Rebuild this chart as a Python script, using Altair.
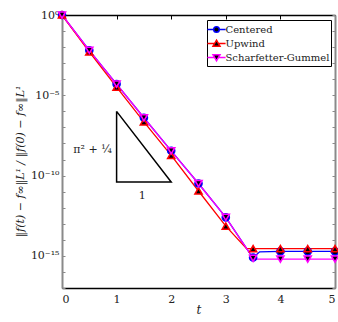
import altair as alt
import pandas as pd

SERIES = ["Centered", "Upwind", "Scharfetter-Gummel"]
COLORS = ["#0000ff", "#ff0000", "#ff00ff"]
MARKERS = ["circle", "triangle-up", "triangle-down"]
LEGEND_SYMBOLS = [
    "M-1.3,0L-0.4,0M0.4,0L1.3,0M0.4,0A0.4,0.4,0,1,1,-0.4,0A0.4,0.4,0,1,1,0.4,0Z",
    "M-1.3,0L-0.28,0M0.28,0L1.3,0M0,-0.48L0.5,0.38L-0.5,0.38Z",
    "M-1.3,0L-0.28,0M0.28,0L1.3,0M0,0.48L0.5,-0.38L-0.5,-0.38Z",
]

# markers every 0.5 in t
MARKER_T = [0, 0.5, 1, 1.5, 2, 2.5, 3, 3.5, 4, 4.5, 5]
CENTERED_MARK = [1.0, 6.3e-3, 5.0e-5, 4.0e-7, 3.5e-9, 3.2e-11, 2.5e-13, 7.9e-16, 1.9e-15, 1.9e-15, 1.9e-15]
UPWIND_MARK = [1.0, 5.0e-3, 3.2e-5, 2.2e-7, 1.8e-9, 1.1e-11, 7.1e-14, 2.8e-15, 2.8e-15, 2.8e-15, 2.8e-15]
SG_MARK = [1.0, 6.3e-3, 5.0e-5, 4.0e-7, 3.5e-9, 3.2e-11, 2.5e-13, 7.1e-16, 6.3e-16, 6.3e-16, 6.3e-16]

# continuous curves (vertices)
CENTERED_LINE_T = [0, 0.5, 1, 1.5, 2, 2.5, 3, 3.45, 3.5, 3.55, 3.62, 4, 4.5, 5]
CENTERED_LINE = [1.0, 6.3e-3, 5.0e-5, 4.0e-7, 3.5e-9, 3.2e-11, 2.5e-13, 1.3e-15, 7.1e-16, 1.1e-15, 1.8e-15, 1.9e-15, 1.9e-15, 1.9e-15]
UPWIND_LINE_T = [0, 0.5, 1, 1.5, 2, 2.5, 3, 3.38, 3.5, 4, 4.5, 5]
UPWIND_LINE = [1.0, 5.0e-3, 3.2e-5, 2.2e-7, 1.8e-9, 1.1e-11, 7.1e-14, 2.8e-15, 2.8e-15, 2.8e-15, 2.8e-15, 2.8e-15]
SG_LINE_T = [0, 0.5, 1, 1.5, 2, 2.5, 3, 3.45, 3.5, 4, 4.5, 5]
SG_LINE = [1.0, 6.3e-3, 5.0e-5, 4.0e-7, 3.5e-9, 3.2e-11, 2.5e-13, 1.3e-15, 6.3e-16, 6.3e-16, 6.3e-16, 6.3e-16]

# slope triangle
TRI_T = [1, 1, 2, 1]
TRI_Y = [1e-6, 4.0e-11, 4.0e-11, 1e-6]
TRI_TEXT = ["π² + ¼", "1"]
TRI_TEXT_T = [0.56, 1.47]
TRI_TEXT_Y = [4.0e-9, 5.0e-12]

X_TICKS = [0, 1, 2, 3, 4, 5]
Y_LABEL_VALUES = [1.0, 1e-5, 1e-10, 1e-15]
Y_LABELS = ["10⁰", "10⁻⁵", "10⁻¹⁰", "10⁻¹⁵"]
Y_MINOR = [1.0, 1e-1, 1e-2, 1e-3, 1e-4, 1e-5, 1e-6, 1e-7, 1e-8, 1e-9, 1e-10,
           1e-11, 1e-12, 1e-13, 1e-14, 1e-15, 1e-16, 1e-17]

FONT = "DejaVu Serif"
GRAY = "#8a8a8a"

lines_df = pd.concat([
    pd.DataFrame({"t": CENTERED_LINE_T, "v": CENTERED_LINE, "series": SERIES[0]}),
    pd.DataFrame({"t": UPWIND_LINE_T, "v": UPWIND_LINE, "series": SERIES[1]}),
    pd.DataFrame({"t": SG_LINE_T, "v": SG_LINE, "series": SERIES[2]}),
], ignore_index=True)
marks_df = pd.concat([
    pd.DataFrame({"t": MARKER_T, "v": CENTERED_MARK, "series": SERIES[0]}),
    pd.DataFrame({"t": MARKER_T, "v": UPWIND_MARK, "series": SERIES[1]}),
    pd.DataFrame({"t": MARKER_T, "v": SG_MARK, "series": SERIES[2]}),
], ignore_index=True)
tri_df = pd.DataFrame({"t": TRI_T, "v": TRI_Y, "i": list(range(len(TRI_T)))})
text_df = pd.DataFrame({"t": TRI_TEXT_T, "v": TRI_TEXT_Y, "label": TRI_TEXT})

xs = alt.Scale(domain=[0, 5], nice=False)
ys = alt.Scale(type="log", domain=[1e-17, 1], nice=False)
cs = alt.Scale(domain=SERIES, range=COLORS)

label_expr = " : ".join(
    f"datum.value > {v * 0.5} ? '{l}'" for v, l in zip(Y_LABEL_VALUES[:-1], Y_LABELS[:-1])
) + f" : '{Y_LABELS[-1]}'"

ax_bottom = alt.Axis(orient="bottom", values=X_TICKS, format="d", ticks=False, tickSize=0,
                     domainColor="black", domainWidth=1.5, grid=False,
                     labelFont=FONT, labelFontSize=11, labelPadding=5, labelColor="#222",
                     title="t", titleFont=FONT, titleFontStyle="italic", titleFontSize=12,
                     titleFontWeight="normal", titlePadding=0, titleColor="#222")
ax_left = alt.Axis(orient="left", values=Y_LABEL_VALUES, labelExpr=label_expr, ticks=False,
                   tickSize=0, domainColor=GRAY, domainWidth=2, grid=False,
                   labelFont=FONT, labelFontSize=11, labelPadding=3, labelColor="#222",
                   title="‖f(t) − f∞‖L¹ / ‖f(0) − f∞‖L¹", titleFont=FONT,
                   titleFontStyle="italic", titleFontSize=11, titleFontWeight="normal",
                   titleColor="#222", titleX=-42, titleY=146, titleBaseline="middle")
ax_top = alt.Axis(orient="top", values=X_TICKS, ticks=False, tickSize=0, labels=False,
                  domainColor="black", domainWidth=1.5, grid=False, title=None)
ax_right = alt.Axis(orient="right", values=Y_MINOR, ticks=False, tickSize=0, labels=False,
                    domainColor=GRAY, domainWidth=2, grid=False, title=None)
ax_top_ticks = alt.Axis(orient="top", values=X_TICKS, ticks=True, tickSize=4, offset=-4,
                        tickColor="black", labels=False, domain=False, grid=False, title=None)
ax_left_ticks = alt.Axis(orient="left", values=Y_MINOR, ticks=True, tickSize=3, offset=-3,
                         tickColor=GRAY, tickWidth=1, labels=False, domain=False, grid=False,
                         title=None)
ax_right_ticks = alt.Axis(orient="right", values=Y_MINOR, ticks=True, tickSize=3, offset=-3,
                          tickColor=GRAY, tickWidth=1, labels=False, domain=False, grid=False,
                          title=None)

lines = alt.Chart(lines_df).mark_line(strokeWidth=1.3).encode(
    x=alt.X("t:Q", scale=xs, axis=ax_bottom),
    y=alt.Y("v:Q", scale=ys, axis=ax_left),
    color=alt.Color("series:N", scale=cs, legend=None),
    detail="series:N",
)

points = alt.Chart(marks_df).mark_point(filled=False, fill="black", fillOpacity=1,
                                        strokeWidth=1.6, size=50, opacity=1).encode(
    x=alt.X("t:Q", scale=xs, axis=ax_top),
    y=alt.Y("v:Q", scale=ys, axis=ax_right),
    color=alt.Color("series:N", scale=cs, legend=None),
    shape=alt.Shape("series:N", scale=alt.Scale(domain=SERIES, range=MARKERS), legend=None),
)

tri = alt.Chart(tri_df).mark_line(color="black", strokeWidth=1.5).encode(
    x=alt.X("t:Q", scale=xs, axis=ax_top_ticks),
    y=alt.Y("v:Q", scale=ys, axis=ax_left_ticks),
    order="i:Q",
)

txt = alt.Chart(text_df).mark_text(font=FONT, fontSize=11, color="#222", align="center",
                                   baseline="middle").encode(
    x=alt.X("t:Q", scale=xs, axis=None),
    y=alt.Y("v:Q", scale=ys, axis=ax_right_ticks),
    text="label:N",
)

leg = alt.Legend(orient="none", legendX=145, legendY=5, title=None,
                 symbolSize=196, symbolStrokeWidth=1.5, symbolOpacity=1,
                 labelFont=FONT, labelFontSize=10, labelColor="#222", labelOffset=1,
                 padding=1.5, rowPadding=0, strokeColor="black", fillColor="white",
                 cornerRadius=0, labelLimit=300)
legend_layer = alt.Chart(marks_df).mark_point(filled=False, fill="black", opacity=0,
                                              strokeWidth=1.5).encode(
    x=alt.X("t:Q", scale=xs, axis=None),
    y=alt.Y("v:Q", scale=ys, axis=None),
    stroke=alt.Stroke("series:N", scale=alt.Scale(domain=SERIES, range=COLORS), legend=leg),
    shape=alt.Shape("series:N", scale=alt.Scale(domain=SERIES, range=LEGEND_SYMBOLS), legend=leg),
)

chart = alt.layer(lines, points, tri, txt, legend_layer).resolve_axis(
    x="independent", y="independent"
).resolve_scale(shape="independent", stroke="independent").properties(
    width=273, height=273,
    autosize=alt.AutoSizeParams(type="none"),
    padding={"left": 62, "top": 15, "right": 3, "bottom": 34},
).configure_view(stroke=None).configure(background="white")

chart.save("out.html", embed_options={"renderer": "svg", "actions": False})
